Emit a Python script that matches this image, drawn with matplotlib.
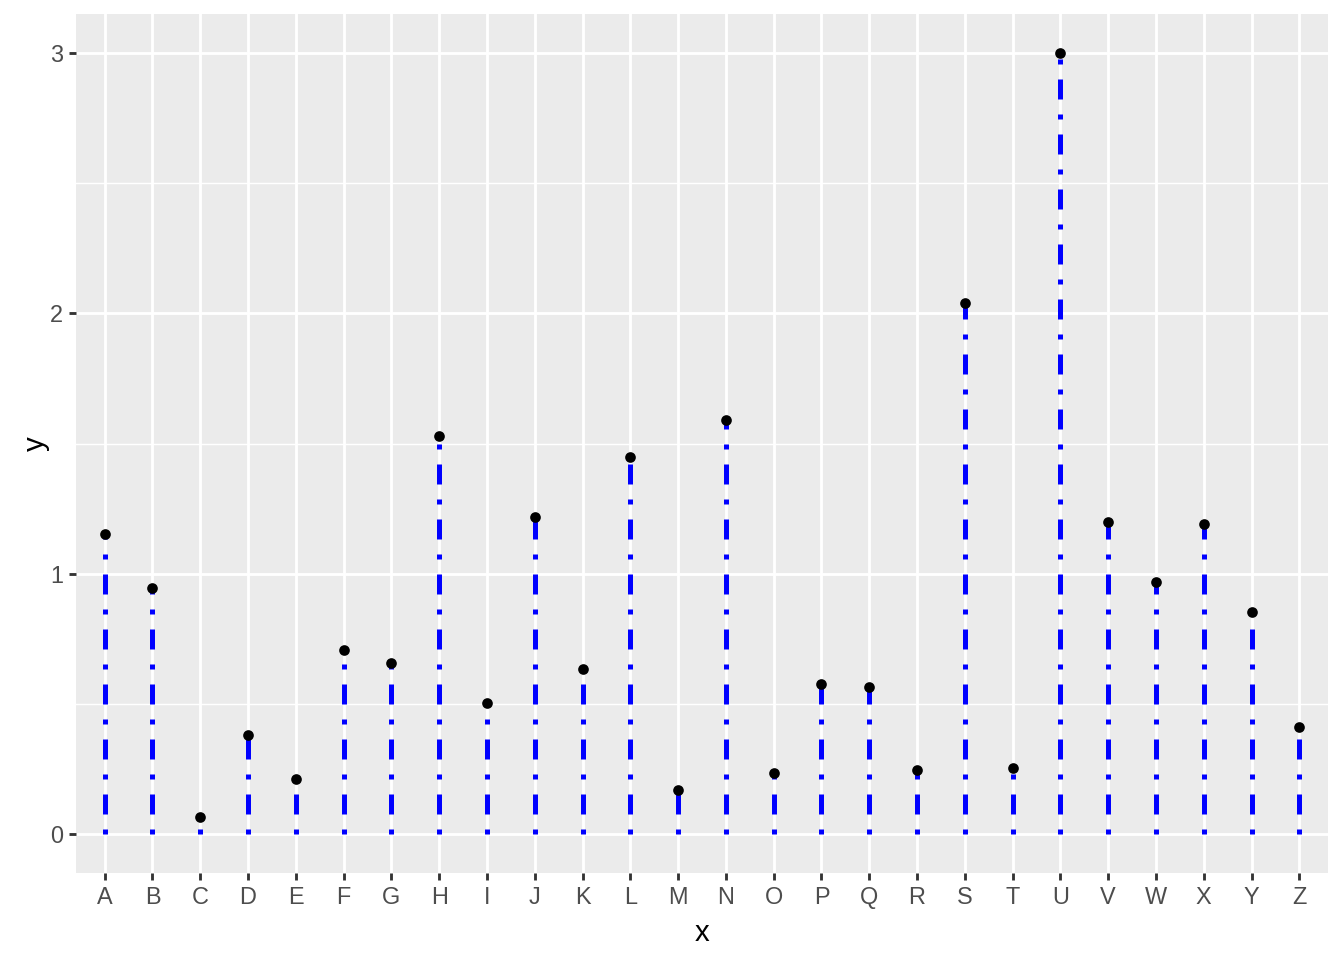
import matplotlib
matplotlib.use("Agg")
import matplotlib.pyplot as plt

categories = list("ABCDEFGHIJKLMNOPQRSTUVWXYZ")
values = [1.151, 0.944, 0.065, 0.380, 0.211, 0.706, 0.656, 1.527, 0.503, 1.216,
          0.633, 1.450, 0.169, 1.592, 0.234, 0.575, 0.564, 0.246, 2.041, 0.253,
          3.000, 1.197, 0.967, 1.189, 0.852, 0.410]

plt.rcParams['font.family'] = ['Liberation Sans', 'DejaVu Sans']

fig = plt.figure(figsize=(7, 5), dpi=192)
ax = fig.add_axes([76/1344, 1 - 873/960, (1328-76)/1344, (873-14)/960])
ax.set_facecolor('#EBEBEB')
for s in ax.spines.values():
    s.set_visible(False)

xs = list(range(len(categories)))
ax.set_xlim(-0.6, len(categories) - 1 + 0.6)
ymax = max(values)
pad = 0.05 * ymax
ax.set_ylim(-pad, ymax + pad)

ax.set_yticks([0, 1, 2, 3])
ax.set_yticks([0.5, 1.5, 2.5], minor=True)
ax.set_xticks(xs)
ax.set_xticklabels(categories)
ax.grid(which='major', color='white', linewidth=1.07)
ax.grid(which='minor', axis='y', color='white', linewidth=0.53)
ax.set_axisbelow(True)

for x, v in zip(xs, values):
    ax.plot([x, x], [0, v], color='#0000FF', linewidth=1.875,
            dashes=(1, 3, 4, 3), solid_capstyle='butt', dash_capstyle='butt', zorder=2)
ax.scatter(xs, values, s=4.0**2, color='black', zorder=3, linewidths=0)

ax.tick_params(axis='both', which='major', length=2.75, width=1.07, color='#333333',
               labelcolor='#4D4D4D', labelsize=8.8, pad=2.2)
ax.tick_params(axis='y', which='minor', length=0)
ax.set_xlabel('x', fontsize=11, labelpad=3.5)
ax.set_ylabel('y', fontsize=11, labelpad=0)

fig.savefig('out.png', dpi=192)
